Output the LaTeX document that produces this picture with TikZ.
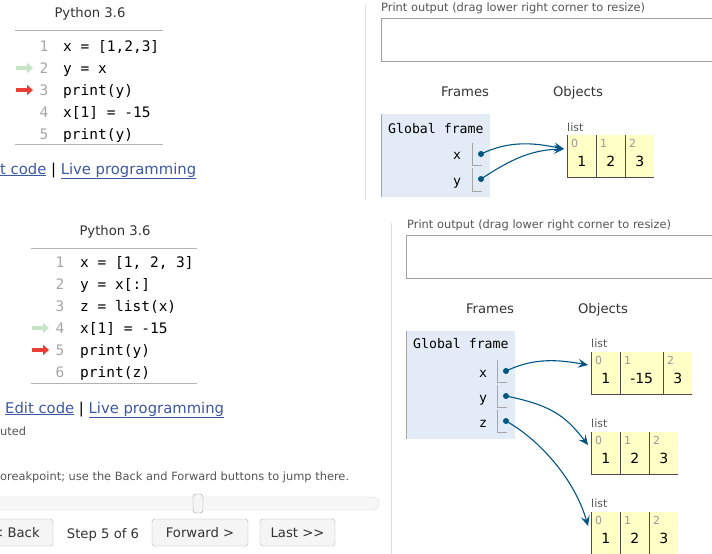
\documentclass[tikz,border=0pt]{standalone}
\usepackage{fontspec}
\setmainfont{DejaVu Sans}
\setmonofont{DejaVu Sans Mono}
\usetikzlibrary{calc, positioning, arrows.meta}
\definecolor{ptrblue}{HTML}{005583}
\definecolor{framebg}{HTML}{E2EBF6}
\definecolor{listbg}{HTML}{FFFFC6}
\definecolor{linkblue}{HTML}{3D58A2}
\definecolor{sepgray}{HTML}{DDDDDD}
\definecolor{boxgray}{HTML}{A0A0A0}
\definecolor{txtgray}{HTML}{555555}
\definecolor{numgray}{HTML}{A6A6A6}
\definecolor{curred}{HTML}{E93F34}
\definecolor{prevgreen}{HTML}{C5E5C6}
\definecolor{btnbg}{HTML}{F5F5F5}

\begin{document}
\begin{tikzpicture}[x=1pt, y=-1pt,
  title/.style={font=\fontsize{13.2}{15}\selectfont, text=black!80, anchor=base, inner sep=0},
  codeline/.style={font=\fontsize{14.5}{17}\ttfamily, anchor=base west, inner sep=0},
  linenum/.style={font=\fontsize{14.5}{17}\ttfamily, text=numgray, anchor=base, inner sep=0},
  rule/.style={draw=black!30, line width=1pt},
  hint/.style={font=\fontsize{11.4}{13}\selectfont, text=txtgray, anchor=base west, inner sep=0},
  frame/.style={fill=framebg, anchor=north west, inner sep=0},
  varname/.style={font=\fontsize{13.2}{15}\ttfamily, anchor=base, inner sep=0},
  slot/.style={draw=black!35, line width=0.8pt},
  dot/.style={circle, fill=ptrblue, inner sep=0, minimum size=6pt},
  ptr/.style={draw=ptrblue, line width=1.1pt, -{Stealth[length=10pt, width=9pt, inset=4pt]}},
  cell/.style={fill=listbg, anchor=north west, inner sep=0, minimum height=42pt},
  cellline/.style={draw=black!70, line width=1pt},
  idx/.style={font=\fontsize{11}{13}\selectfont, text=black!40, anchor=base west, inner sep=0},
  val/.style={font=\fontsize{14}{16}\selectfont, anchor=base, inner sep=0},
  btn/.style={draw=black!30, fill=btnbg, rounded corners=3pt, minimum height=27pt,
    font=\fontsize{13.2}{15}\selectfont, text=black!80, inner sep=0}]
  \useasboundingbox (0,0) rectangle (712,554);

  % panel separators
  \draw[sepgray] (365,5) -- (365,200);
  \draw[sepgray] (391,223) -- (391,554);

  % ---- upper code panel ----
  \node[title] (ttitle) at (90,17) {Python 3.6};
  \draw[rule] (15,30) -- (163,30);
  \draw[rule] (15,144) -- (163,144);
  \foreach \code [count=\i] in {{x = [1,2,3]}, {y = x}, {print(y)}, {x[1] = -15}, {print(y)}} {
    \node[linenum] (tn\i) at (44,29+22*\i) {\i};
    \node[codeline] (tc\i) at (63,29+22*\i) {\code};
  }
  \draw[prevgreen, line width=3.5pt, -{Triangle[length=6pt, width=10pt]}] (16,68) -- (33,68);
  \draw[curred, line width=3.5pt, -{Triangle[length=6pt, width=10pt]}] (16,90) -- (33,90);
  \node[anchor=base west, inner sep=0, font=\fontsize{14.8}{17}\selectfont] (tlinks) at (0,174)
    {\textcolor{linkblue}{\underline{t code}} | \textcolor{linkblue}{\underline{Live programming}}};

  % ---- upper visualizer ----
  \node[hint] (tprint) at (381,12) {Print output (drag lower right corner to resize)};
  \draw[boxgray] (381,18) rectangle (720,61);
  \node[title] (tframes) at (465,96) {Frames};
  \node[title] (tobjects) at (578,96) {Objects};
  \node[frame, minimum width=109pt, minimum height=83pt] (tglobal) at (381,114) {};
  \draw[black!35] (tglobal.north west) -- (tglobal.south west);
  \node[varname, anchor=base west] (tgname) at (388,133) {Global frame};
  \node[varname] (tvx) at (457,159) {x};
  \node[varname] (tvy) at (457,185) {y};
  \draw[slot] (472,143) |- (482,165);
  \draw[slot] (472,168) |- (482,191);
  \node[dot] (tdx) at (481,154) {};
  \node[dot] (tdy) at (481,179) {};

  % ---- lower code panel ----
  \node[title] (btitle) at (115,235) {Python 3.6};
  \draw[rule] (31,248) -- (197,248);
  \draw[rule] (31,383) -- (197,383);
  \foreach \code [count=\i] in {{x = [1, 2, 3]}, {y = x[:]}, {z = list(x)}, {x[1] = -15}, {print(y)}, {print(z)}} {
    \node[linenum] (bn\i) at (60,245+22*\i) {\i};
    \node[codeline] (bc\i) at (80,245+22*\i) {\code};
  }
  \draw[prevgreen, line width=3.5pt, -{Triangle[length=6pt, width=10pt]}] (32,328) -- (49,328);
  \draw[curred, line width=3.5pt, -{Triangle[length=6pt, width=10pt]}] (32,350) -- (49,350);
  \node[anchor=base west, inner sep=0, font=\fontsize{14.8}{17}\selectfont] (blinks) at (5,413)
    {\textcolor{linkblue}{\underline{Edit code}} | \textcolor{linkblue}{\underline{Live programming}}};
  \node[hint] (bdone) at (0,435) {uted};
  \node[hint] (bbreak) at (0,480) {oreakpoint; use the Back and Forward buttons to jump there.};

  % slider and buttons
  \draw[black!15, fill=black!3, rounded corners=6pt] (-10,497) rectangle (379,510);
  \draw[black!40, fill=btnbg, rounded corners=3pt] (193,494) rectangle (203,513);
  \node[btn, minimum width=74pt] (bback) at (16,532.5) {< Back};
  \node[title] (bstep) at (103,538) {Step 5 of 6};
  \node[btn, minimum width=96pt] (bfwd) at (200,532.5) {Forward >};
  \node[btn, minimum width=75pt] (blast) at (297.5,532.5) {Last >{}>};

  % ---- lower visualizer ----
  \node[hint] (bprint) at (407,228) {Print output (drag lower right corner to resize)};
  \draw[boxgray] (406,235) rectangle (720,278);
  \node[title] (bframes) at (490,313) {Frames};
  \node[title] (bobjects) at (603,313) {Objects};
  \node[frame, minimum width=109pt, minimum height=108pt] (bglobal) at (406,331) {};
  \draw[black!35] (bglobal.north west) -- (bglobal.south west);
  \node[varname, anchor=base west] (bgname) at (413,348) {Global frame};
  \foreach \v [count=\i] in {x,y,z} {
    \node[varname] (bv\v) at (483,352+25*\i) {\v};
    \draw[slot] (497,335+25*\i) |- (507,357+25*\i);
    \node[dot] (bd\v) at (506,346+25*\i) {};
  }

  % ---- list objects ----
  \node[idx, text=txtgray] (tal) at (567,131) {list};
  \node[idx, text=txtgray] (bal) at (591,347) {list};
  \node[idx, text=txtgray] (bbl) at (591,427) {list};
  \node[idx, text=txtgray] (bcl) at (591,507) {list};
  \foreach \nm/\lx/\ly/\w/\k/\val in {
      ta0/567/135/29/0/1, ta1/596/135/29/1/2, ta2/625/135/29/2/3,
      ba0/591/352/29/0/1, ba1/620/352/43/1/-15, ba2/663/352/29/2/3,
      bb0/591/432/29/0/1, bb1/620/432/29/1/2, bb2/649/432/29/2/3,
      bc0/591/512/29/0/1, bc1/620/512/29/1/2, bc2/649/512/29/2/3} {
    \node[cell, minimum width=\w pt] (\nm) at (\lx,\ly) {};
    \node[idx] at ($(\nm.north west)+(4,12.5)$) {\k};
    \node[val] at ($(\nm.north)+(0,31.5)$) {\val};
    \draw[cellline] (\nm.north west) -- (\nm.south west) -- (\nm.south east);
  }
  \coordinate (tain) at ($(ta0.north west)+(-3,14)$);
  \coordinate (bain) at ($(ba0.north west)+(-3,13)$);
  \coordinate (bbin) at ($(bb0.north west)+(-3,13)$);
  \coordinate (bcin) at ($(bc0.north west)+(-3,14)$);

  % pointers
  \draw[ptr] (tdx.center) .. controls (510,140) and (535,143) .. (tain);
  \draw[ptr] (tdy.center) .. controls (510,160) and (530,150) .. (tain);
  \draw[ptr] (bdx.center) .. controls (535,357) and (560,360) .. (bain);
  \draw[ptr] (bdy.center) .. controls (550,405) and (565,415) .. (bbin);
  \draw[ptr] (bdz.center) .. controls (540,440) and (575,480) .. (bcin);
\end{tikzpicture}
\end{document}
